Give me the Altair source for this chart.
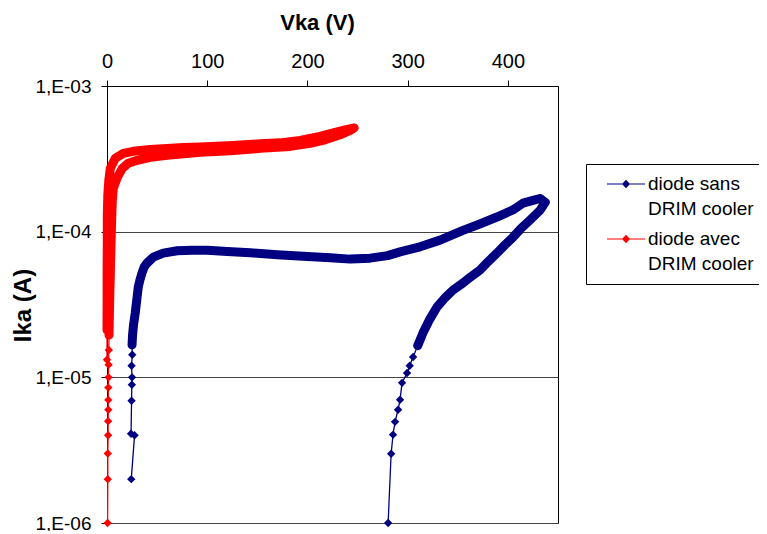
import math
import altair as alt
import pandas as pd

# ---------------- data ----------------
series_names = ["diode sans|DRIM cooler", "diode avec|DRIM cooler"]
series_colors = ["#000080", "#FF0000"]

# diode sans DRIM cooler: sweep up then back down
blue_v = [24.2, 27.5, 24.0, 24.5, 24.8, 25.0, 24.5, 25.2, 25.0, 25.5, 26.5, 28.2,
          29.7, 31.2, 33.0, 34.9, 37.0, 39.9, 46.2, 56.1, 70.1, 85.0, 100.0, 120.0,
          142.9, 170.0, 195.7, 222.6, 242.6, 262.5, 280.0, 292.4, 312.3, 332.3, 355.2,
          372.0, 389.1, 405.0, 415.1, 425.0, 432.0, 437.3,
          432.0, 422.0, 413.0, 405.1, 397.0, 389.1, 380.0, 372.1, 363.0, 355.2, 345.2,
          337.0, 329.3, 322.0, 315.3, 310.0, 305.4, 302.0, 299.4, 294.4, 292.4, 290.4,
          287.4, 285.4, 283.5, 280.5]
blue_i = [2.0e-6, 4.0e-6, 4.1e-6, 6.9e-6, 8.9e-6, 1.0e-5, 1.2e-5, 1.43e-5, 1.67e-5,
          1.95e-5, 2.3e-5, 2.77e-5, 3.40e-5, 4.17e-5, 4.7e-5, 5.20e-5, 5.7e-5, 6.08e-5,
          6.68e-5, 7.12e-5, 7.39e-5, 7.45e-5, 7.46e-5, 7.3e-5, 7.16e-5, 6.95e-5, 6.79e-5,
          6.63e-5, 6.48e-5, 6.58e-5, 6.85e-5, 7.27e-5, 7.87e-5, 8.75e-5, 1.02e-4,
          1.13e-4, 1.26e-4, 1.41e-4, 1.57e-4, 1.64e-4, 1.69e-4, 1.59e-4,
          1.40e-4, 1.20e-4, 1.05e-4, 9.17e-5, 8.1e-5, 7.13e-5, 6.2e-5, 5.45e-5, 4.9e-5,
          4.44e-5, 3.97e-5, 3.5e-5, 3.04e-5, 2.5e-5, 2.02e-5, 1.65e-5, 1.38e-5, 1.2e-5,
          1.07e-5, 9.17e-6, 7.01e-6, 5.99e-6, 4.95e-6, 4.04e-6, 2.99e-6, 1.0e-6]

# diode avec DRIM cooler: sweep up then back down
red_v = [0.6, 0.8, 0.8, 1.1, 1.1, 1.3, 1.3, 1.3, 1.5, 1.6, 1.8, 2.0, 2.3, 2.6, 2.9,
         3.3, 3.6, 4.0, 4.3, 4.8, 5.3, 6.3, 10.3, 15.3, 21.2, 30.2, 43.2, 60.1, 93.0,
         122.9, 152.8, 182.8, 202.7, 217.6, 232.6, 242.6, 246.6,
         237.6, 227.6, 212.4, 192.7, 172.8, 152.8, 125.9, 93.0, 76.1, 43.2, 26.2, 16.3,
         8.3, 3.3, 1.8, 0.8, 0.3, 0.3, 0.1, 0.1, 0.0, 0.0]
red_i = [1.0e-6, 2.0e-6, 3.0e-6, 4.0e-6, 5.0e-6, 6.0e-6, 7.0e-6, 8.5e-6, 1.0e-5,
         1.22e-5, 1.54e-5, 1.95e-5, 2.48e-5, 3.14e-5, 3.97e-5, 5.03e-5, 6.38e-5, 8.09e-5,
         1.0e-4, 1.30e-4, 1.64e-4, 1.99e-4, 2.36e-4, 2.72e-4, 2.95e-4, 3.09e-4, 3.24e-4,
         3.34e-4, 3.51e-4, 3.59e-4, 3.73e-4, 3.85e-4, 4.04e-4, 4.27e-4, 4.62e-4, 4.95e-4,
         5.15e-4,
         5.0e-4, 4.81e-4, 4.51e-4, 4.23e-4, 4.07e-4, 4.01e-4, 3.91e-4, 3.82e-4, 3.79e-4,
         3.67e-4, 3.56e-4, 3.45e-4, 3.19e-4, 2.72e-4, 2.25e-4, 1.78e-4, 1.30e-4, 8.75e-5,
         5.45e-5, 3.40e-5, 2.11e-5, 1.32e-5]

x_ticks = [0, 100, 200, 300, 400]
y_ticks = [1e-6, 1e-5, 1e-4, 1e-3]
y_tick_labels = ["1,E-06", "1,E-05", "1,E-04", "1,E-03"]

# ---------------- table ----------------
rows = []
for name, vs, cs in [(series_names[0], blue_v, blue_i), (series_names[1], red_v, red_i)]:
    for k, (v, c) in enumerate(zip(vs, cs)):
        rows.append({"series": name, "V": v, "I": c, "idx": k})
df = pd.DataFrame(rows)

FONT = "Liberation Sans"

y_label_expr = " : ".join(
    f"abs(log(datum.value)/LN10 - ({math.log10(v)})) < 0.01 ? '{lab}'"
    for v, lab in zip(y_ticks, y_tick_labels)
) + " : ''"

xenc = alt.X(
    "V:Q",
    scale=alt.Scale(domain=[0, 450], nice=False, zero=False),
    axis=alt.Axis(
        orient="top", values=x_ticks, grid=False, title="Vka (V)",
        labelFontSize=20, labelPadding=9, labelFlush=False, tickSize=6,
        tickColor="black", domainColor="black", labelColor="black",
        titleFontSize=22, titleFontWeight="bold", titleColor="black",
        titleX=210, titleY=-64, titleBaseline="middle", titleAlign="center",
    ),
)
yenc = alt.Y(
    "I:Q",
    scale=alt.Scale(type="log", domain=[1e-6, 1e-3], nice=False),
    axis=alt.Axis(
        values=y_ticks, labelExpr=y_label_expr, grid=True, gridColor="#444444",
        gridWidth=1, labelFontSize=19, labelPadding=10, labelFlush=False, tickSize=6,
        tickColor="black", domainColor="black", labelColor="black",
        title="Ika (A)", titleFontSize=24, titleFontWeight="bold", titleColor="black",
        titleX=-84, titleY=219, titleAngle=270, titleAlign="center",
        titleBaseline="middle",
    ),
)

color_scale = alt.Scale(domain=series_names, range=series_colors)

# legend glyph: a thin line with a diamond in its middle (unit = 10 px)
legend_symbol = "M-1.9,-0.06H1.9V0.06H-1.9Z M-0.4,0L0,-0.42L0.4,0L0,0.42Z"
legend = alt.Legend(
    title=None, orient="none", legendX=479, legendY=78,
    strokeColor="black", fillColor="white", padding=10,
    symbolType=legend_symbol, symbolSize=400, symbolStrokeWidth=0,
    symbolOffset=20, labelOffset=12, labelFontSize=19, labelFont=FONT,
    labelColor="black", labelExpr="split(datum.label, '|')",
    rowPadding=10, labelLimit=300,
)

base = alt.Chart(df).encode(x=xenc, y=yenc, order="idx:Q")

thin = base.mark_line(strokeWidth=1.3).encode(
    color=alt.Color("series:N", scale=color_scale, legend=None)
)
thick = base.transform_filter(alt.datum.I >= 1.6e-5).mark_line(
    strokeWidth=9, strokeCap="round", strokeJoin="round"
).encode(color=alt.Color("series:N", scale=color_scale, legend=None))

pts = base.mark_point(shape="diamond", filled=True, size=70, opacity=1).encode(
    color=alt.Color("series:N", scale=color_scale, legend=legend)
)

chart = alt.layer(thin, thick, pts).resolve_legend(color="independent").properties(
    width=451, height=437,
    autosize=alt.AutoSizeParams(type="none"),
    padding={"left": 99, "top": 78, "right": 201, "bottom": 8},
).configure(
    font=FONT, style={"guide-label": {"lineHeight": 25}}
).configure_view(stroke="black", strokeWidth=1)

chart.save("out.html", embed_options={"renderer": "svg", "actions": False})
